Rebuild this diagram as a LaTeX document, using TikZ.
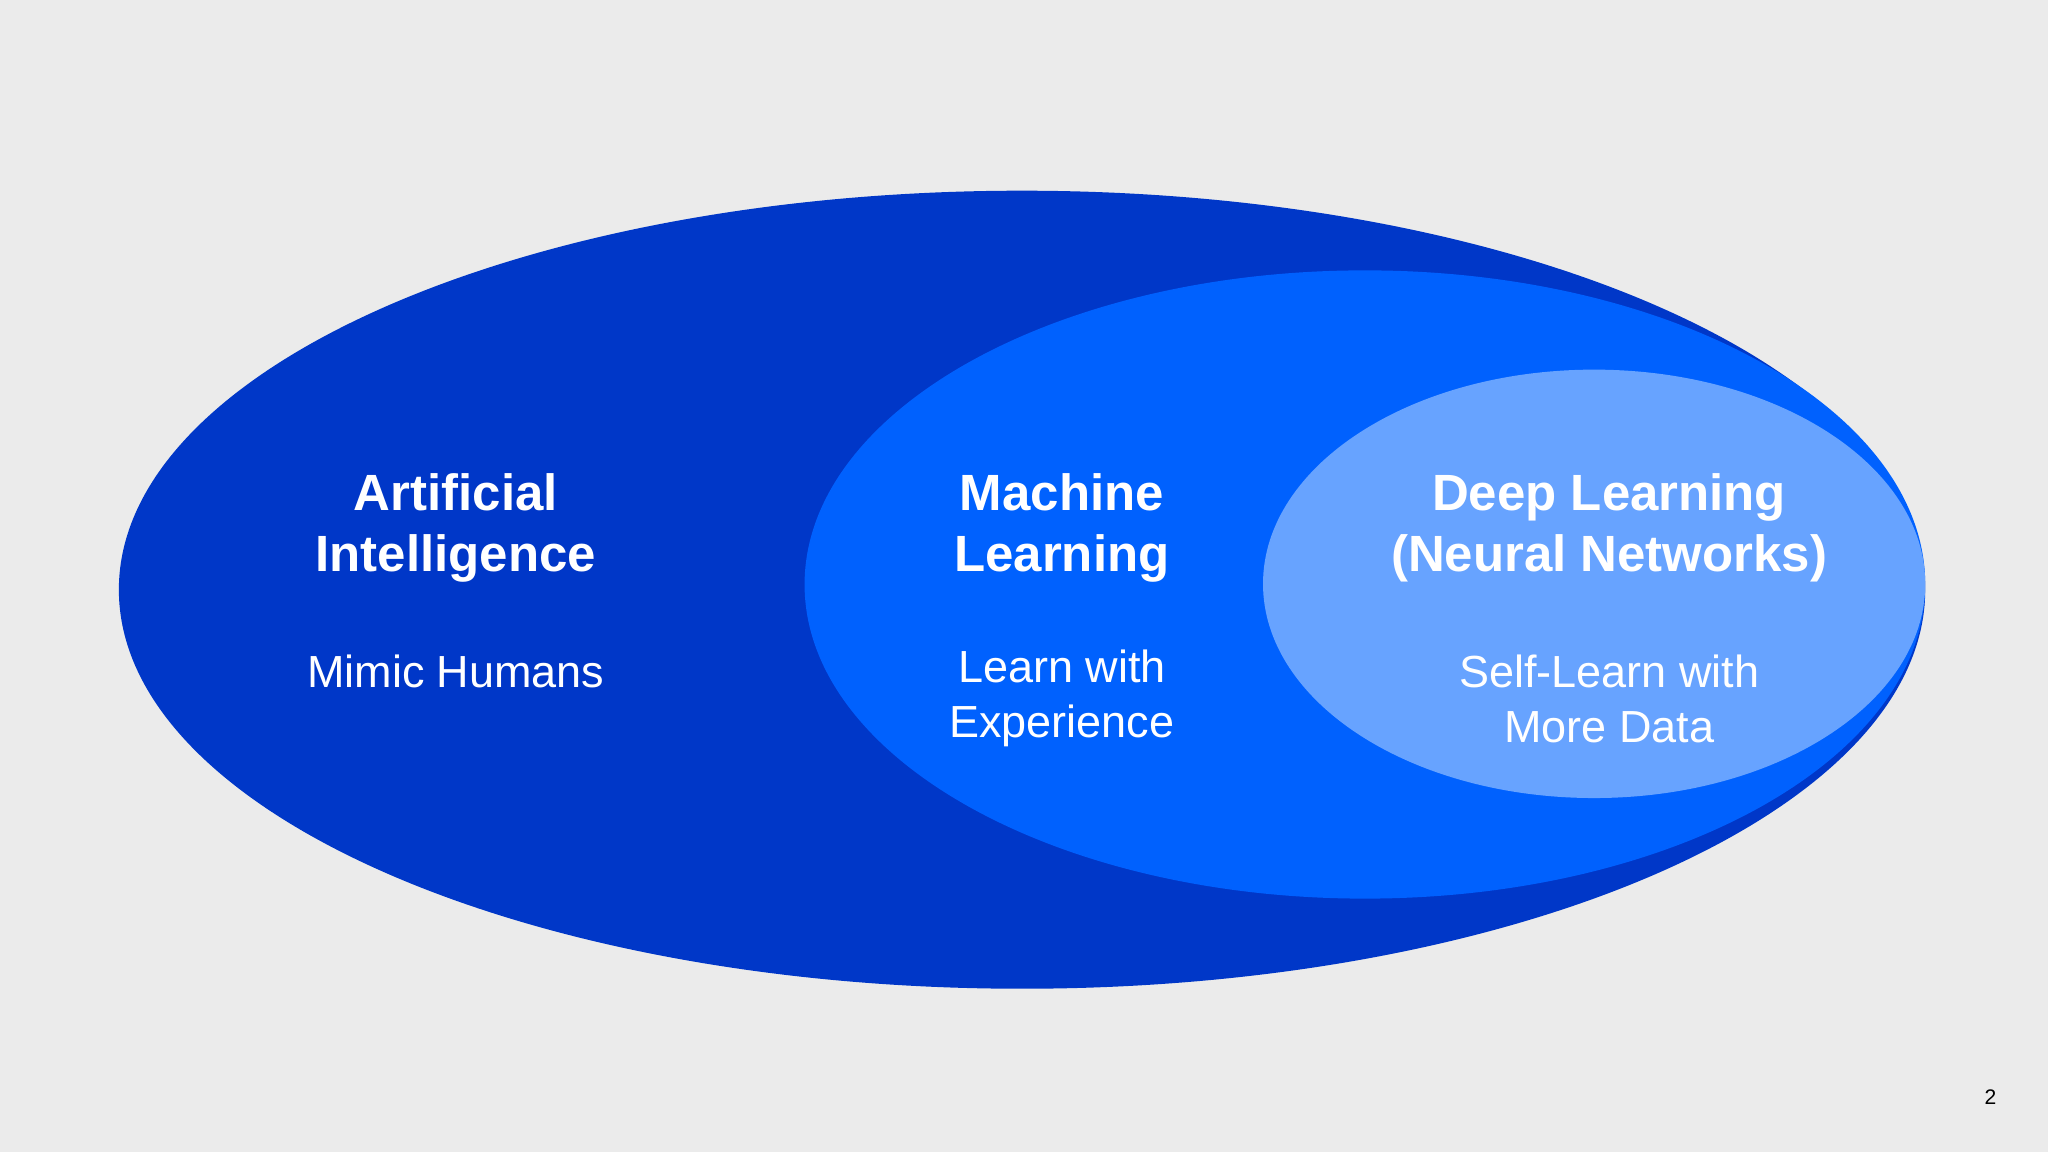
\documentclass[tikz,border=0pt]{standalone}
\usepackage{fontspec}
\setmainfont{Liberation Sans}
\definecolor{bg}{HTML}{EBEBEB}
\definecolor{aiC}{HTML}{0037C8}
\definecolor{mlC}{HTML}{0061FE}
\definecolor{dlC}{HTML}{67A3FF}
\tikzset{
 title/.style={text=white,align=center,font=\fontsize{14.5}{17.4}\selectfont\bfseries},
 body/.style={text=white,align=center,font=\fontsize{12.8}{15.6}\selectfont},
}
\begin{document}
\begin{tikzpicture}[x=0.013061cm,y=-0.013061cm]
\fill[bg] (0,0) rectangle (1568,882);
\fill[aiC] (782.5,451.5) ellipse [x radius=691.5, y radius=305.5];
\fill[mlC] (1045,447.5) ellipse [x radius=429, y radius=240.5];
\fill[dlC] (1220.5,447) ellipse [x radius=253.5, y radius=164];
\node[title] (ait) at (349,404) {Artificial\\Intelligence};
\node[body] (aib) at (349,514) {Mimic Humans};
\node[title] (mlt) at (813,404) {Machine\\Learning};
\node[body] (mlb) at (813,535) {Learn with\\Experience};
\node[title] (dlt) at (1232,404) {Deep Learning\\(Neural Networks)};
\node[body] (dlb) at (1232,535) {Self-Learn with\\More Data};
\node[font=\fontsize{6}{7}\selectfont] (pg) at (1524,840) {2};
\end{tikzpicture}
\end{document}
